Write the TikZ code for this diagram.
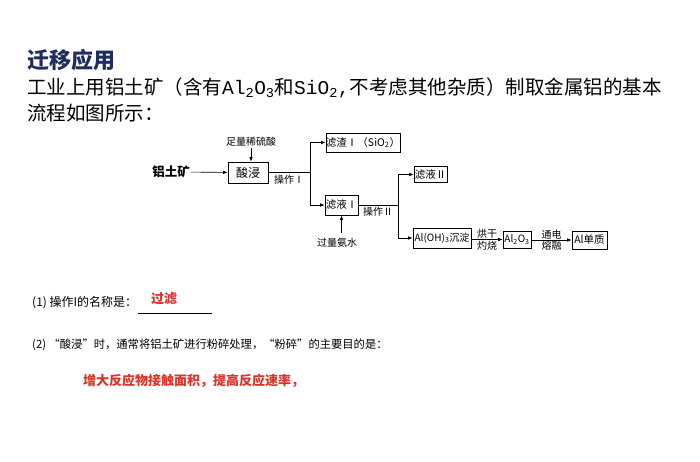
\documentclass[tikz,border=0pt]{standalone}
\usepackage{fontspec}
\setmainfont{Noto Sans CJK SC}
\newfontfamily\formulafont{Liberation Mono}
\usetikzlibrary{arrows.meta}
\definecolor{titleblue}{HTML}{1F2D5C}
\definecolor{answerred}{HTML}{D9332A}

\begin{document}
\begin{tikzpicture}[x=1pt,y=-1pt,
  >={Latex[length=4.5pt,width=3.5pt]},
  flow/.style={->,line width=.6pt},
  link/.style={line width=.6pt},
  box/.style={draw,line width=.6pt,inner sep=0pt,font=\fontsize{10.5}{12}\selectfont},
  tag/.style={inner sep=1pt,font=\fontsize{10}{11}\selectfont},
  body/.style={anchor=west,inner sep=0pt,font=\fontsize{19.5}{23}\selectfont},
  small/.style={anchor=west,inner sep=0pt,font=\fontsize{12}{14}\selectfont},
  answer/.style={inner sep=0pt,text=answerred,font=\fontsize{13}{15}\selectfont\bfseries}
]
  \useasboundingbox[fill=white] (0,0) rectangle (700,461);

  % heading and question
  \node[body,text=titleblue,font=\fontsize{22}{26}\selectfont\bfseries] (title) at (27,60) {迁移应用};
  \node[body] (line1) at (27,88) {工业上用铝土矿（含有{\formulafont Al\textsubscript{2}O\textsubscript{3}}和{\formulafont SiO\textsubscript{2},}不考虑其他杂质）制取金属铝的基本};
  \node[body] (line2) at (27,113) {流程如图所示：};

  % flow chart
  \node[inner sep=1pt,font=\fontsize{12.5}{14}\selectfont\bfseries] (ore) at (171,172) {铝土矿};
  \node[box,minimum width=40pt,minimum height=21pt,font=\fontsize{12}{14}\selectfont] (suanjin) at (248,172.5) {酸浸};
  \node[tag] (acid) at (251,142) {足量稀硫酸};
  \node[box,minimum width=72pt,minimum height=19pt] (lvzha1) at (363,142.5) {滤渣Ⅰ（SiO\textsubscript{2}）};
  \node[box,minimum width=33pt,minimum height=20pt] (lvye1) at (341.5,205) {滤液Ⅰ};
  \node[tag] (ammonia) at (337,243) {过量氨水};
  \node[box,minimum width=33pt,minimum height=16pt] (lvye2) at (430.5,174.5) {滤液Ⅱ};
  \node[box,minimum width=58pt,minimum height=20pt,font=\fontsize{10}{12}\selectfont] (aloh) at (442,238) {Al(OH)\textsubscript{3}沉淀};
  \node[box,minimum width=28pt,minimum height=17pt,font=\fontsize{10}{12}\selectfont] (al2o3) at (517,239.5) {Al\textsubscript{2}O\textsubscript{3}};
  \node[box,minimum width=35pt,minimum height=18pt] (al) at (589.5,240) {Al单质};

  \coordinate (split1) at (310,172.5);
  \coordinate (split2) at (398,205);

  \draw[flow] (ore) -- (suanjin);
  \draw[flow] (acid.south) -- (acid.south |- suanjin.north);
  \draw[link] (suanjin.east) -- node[tag,below=1pt] {操作Ⅰ} (split1);
  \draw[flow] (split1) |- (lvzha1.west);
  \draw[flow] (split1) |- (lvye1.west);
  \draw[flow] ([yshift=4pt]ammonia.north -| lvye1.south) -- (lvye1.south);
  \draw[link] (lvye1.east) -- node[tag,below=1pt] {操作Ⅱ} (split2);
  \draw[flow] (split2) |- (lvye2.west);
  \draw[flow] (split2) |- (aloh.west);
  \draw[flow] (aloh.east |- al2o3.west) -- node[tag,above] {烘干} node[tag,below] {灼烧} (al2o3.west);
  \draw[flow] (al2o3.east |- al.west) -- node[tag,above] {通电} node[tag,below] {熔融} (al.west);

  % questions and answers
  \node[small] (q1) at (32,303) {(1) 操作I的名称是：};
  \coordinate (blankl) at (138,313);
  \coordinate (blankr) at (212,313);
  \draw[line width=.8pt] (blankl) -- (blankr);
  \node[answer] (a1) at (164,299) {过滤};
  \node[small,font=\fontsize{11.3}{14}\selectfont] (q2) at (32,345) {(2) “酸浸”时，通常将铝土矿进行粉碎处理，“粉碎”的主要目的是：};
  \node[answer,anchor=west] (a2) at (83,381) {增大反应物接触面积，提高反应速率，};
\end{tikzpicture}
\end{document}
